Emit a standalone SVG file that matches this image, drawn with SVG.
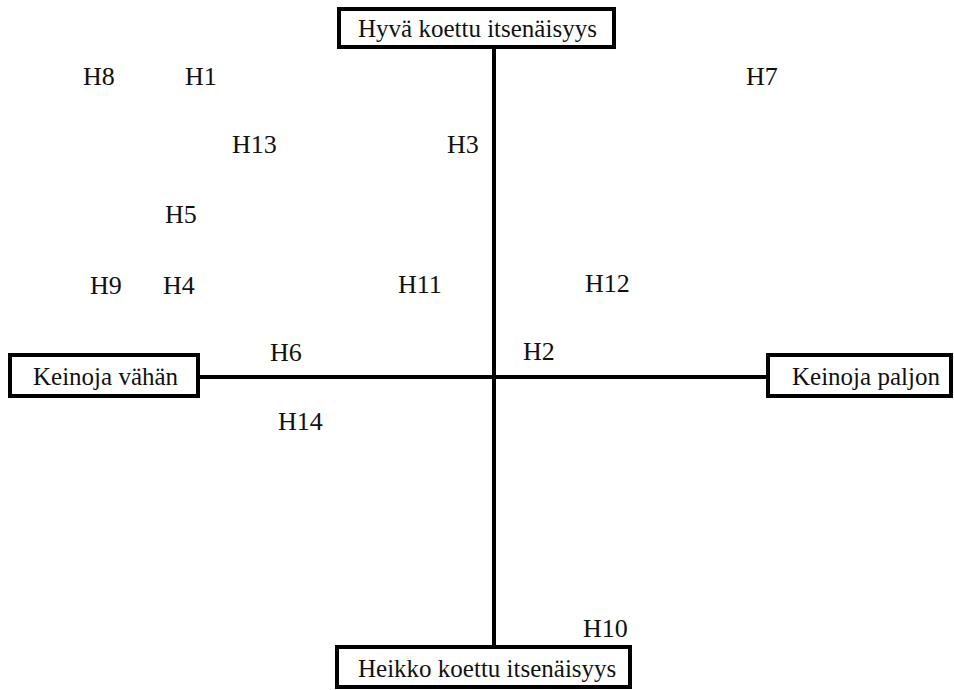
<svg xmlns="http://www.w3.org/2000/svg" width="954" height="690" viewBox="0 0 954 690">
<style>
.box{fill:#fff;stroke:#000;stroke-width:4}
text{font-family:"Times New Roman","Liberation Serif",Times,"DejaVu Serif",serif;fill:#111}
.bt{font-size:25px}
.lb{font-size:26px}
.ln{stroke:#000;stroke-width:4;fill:none}
</style>
<rect width="954" height="690" fill="#fff"/>
<g id="connectors">
<line class="ln" x1="494" y1="47" x2="494" y2="647"/>
<line class="ln" x1="198" y1="377" x2="768" y2="377"/>
</g>
<g id="top"><rect class="box" x="339" y="9" width="275" height="38"/><text class="bt" x="358" y="37">Hyvä koettu itsenäisyys</text></g>
<g id="left"><rect class="box" x="10" y="355" width="188" height="41"/><text class="bt" x="33" y="385">Keinoja vähän</text></g>
<g id="right"><rect class="box" x="768" y="355" width="183" height="41"/><text class="bt" x="792" y="385">Keinoja paljon</text></g>
<g id="bottom"><rect class="box" x="337" y="647" width="293" height="40"/><text class="bt" x="358" y="677">Heikko koettu itsenäisyys</text></g>
<g id="labels">
<text class="lb" x="83" y="85">H8</text>
<text class="lb" x="185" y="85">H1</text>
<text class="lb" x="746" y="85">H7</text>
<text class="lb" x="232" y="153">H13</text>
<text class="lb" x="447" y="153">H3</text>
<text class="lb" x="165" y="223">H5</text>
<text class="lb" x="90" y="294">H9</text>
<text class="lb" x="163" y="294">H4</text>
<text class="lb" x="398" y="293">H11</text>
<text class="lb" x="585" y="292">H12</text>
<text class="lb" x="270" y="361">H6</text>
<text class="lb" x="523" y="360">H2</text>
<text class="lb" x="278" y="430">H14</text>
<text class="lb" x="583" y="637">H10</text>
</g>
</svg>
